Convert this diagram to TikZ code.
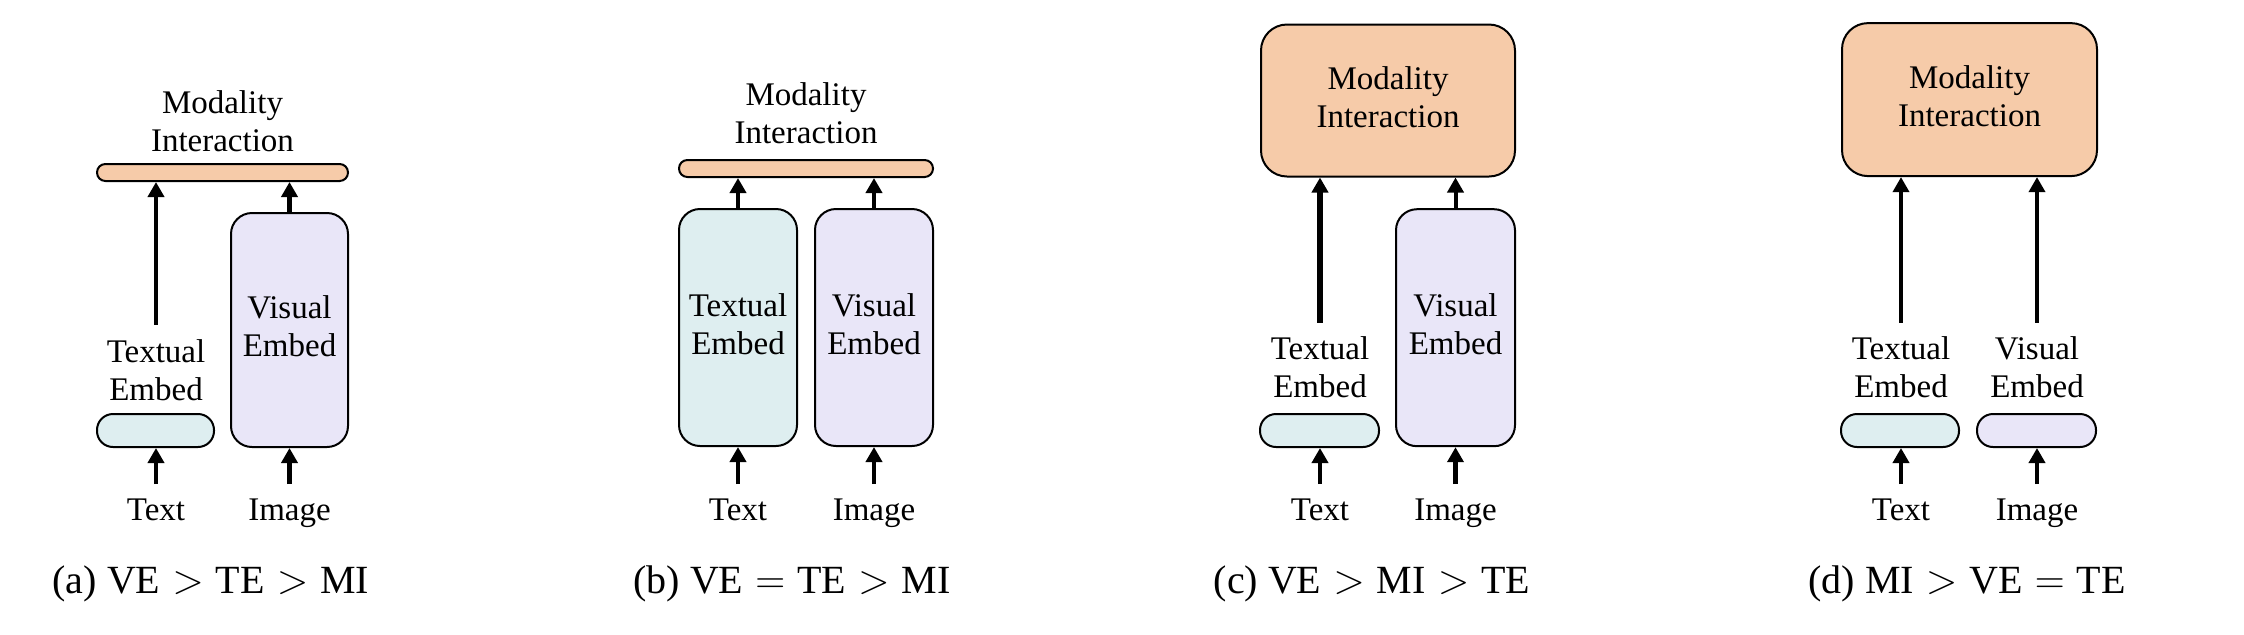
\documentclass[tikz,border=0pt]{standalone}
\usepackage[no-math]{fontspec}
\setmainfont{Liberation Serif}
\usetikzlibrary{arrows.meta}
\newcommand{\twoline}[2]{\begin{tabular}[t]{@{}c@{}}#1\\#2\end{tabular}}
\newcommand{\relsym}[1]{\hspace{0.3em}$#1$\hspace{0.3em}}
\definecolor{mifill}{RGB}{246,203,169}
\definecolor{tefill}{RGB}{222,238,240}
\definecolor{vefill}{RGB}{233,230,248}
\begin{document}
\begin{tikzpicture}[x=0.5pt,y=-0.5pt,
  lbl/.style={font=\fontsize{16.5}{19}\selectfont, inner sep=0pt, anchor=base},
  io/.style={lbl, inner ysep=7pt},
  box/.style={draw=black, line width=1pt, inner sep=0pt, font=\fontsize{16.5}{19}\selectfont},
  mibox/.style={box, fill=mifill},
  tebox/.style={box, fill=tefill},
  vebox/.style={box, fill=vefill},
  captxt/.style={font=\fontsize{20}{24}\selectfont, inner sep=0pt, anchor=base},
  arr/.style={-{Triangle[width=8pt,length=7.5pt]}, line width=2.2pt},
]
\useasboundingbox (0,0) rectangle (2244,634);

% ---------- (a) ----------
\node[lbl] (mlA) at (222.5,113) {\twoline{Modality}{Interaction}};
\node[mibox, minimum width=125.5pt, minimum height=8.5pt, rounded corners=4.2pt] (mA) at (222.5,172.5) {};
\node[tebox, minimum width=58.5pt, minimum height=16.5pt, rounded corners=8pt] (tA) at (155.5,430.5) {};
\node[vebox, minimum width=58.5pt, minimum height=117pt, rounded corners=10.5pt] (vA) at (289.5,330) {\twoline{Visual}{Embed}};
\node[lbl, inner ysep=5.2pt] (tlA) at (156,362) {\twoline{Textual}{Embed}};
\node[io] (txA) at (156,520) {Text};
\node[io] (imA) at (289.5,520) {Image};
\draw[arr] (tlA.north) -- (tlA.north |- mA.south);
\draw[arr] (vA.north) -- (vA.north |- mA.south);
\draw[arr] (txA.north) -- (txA.north |- tA.south);
\draw[arr] (imA.north) -- (imA.north |- vA.south);
\node[captxt] (cA) at (211,593) {(a) VE\relsym{>}TE\relsym{>}MI};

% ---------- (b) ----------
\node[lbl] (mlB) at (806,105) {\twoline{Modality}{Interaction}};
\node[mibox, minimum width=127pt, minimum height=8.5pt, rounded corners=4.2pt] (mB) at (806,168.5) {};
\node[tebox, minimum width=59pt, minimum height=118.5pt, rounded corners=10.5pt] (tB) at (738,327.5) {\twoline{Textual}{Embed}};
\node[vebox, minimum width=59pt, minimum height=118.5pt, rounded corners=10.5pt] (vB) at (874,327.5) {\twoline{Visual}{Embed}};
\node[io] (txB) at (738,520) {Text};
\node[io] (imB) at (874,520) {Image};
\draw[arr] (tB.north) -- (tB.north |- mB.south);
\draw[arr, line width=1.9pt] (vB.north) -- (vB.north |- mB.south);
\draw[arr] (txB.north) -- (txB.north |- tB.south);
\draw[arr] (imB.north) -- (imB.north |- vB.south);
\node[captxt] (cB) at (792,593) {(b) VE\relsym{=}TE\relsym{>}MI};

% ---------- (c) ----------
\node[mibox, minimum width=127pt, minimum height=76pt, rounded corners=13pt] (mC) at (1388,100.5) {\twoline{Modality}{Interaction}};
\node[tebox, minimum width=59.5pt, minimum height=16.5pt, rounded corners=8pt] (tC) at (1319.5,430.5) {};
\node[vebox, minimum width=59.5pt, minimum height=118.5pt, rounded corners=10.5pt] (vC) at (1455.5,327.7) {\twoline{Visual}{Embed}};
\node[lbl, inner ysep=4.7pt] (tlC) at (1320,359) {\twoline{Textual}{Embed}};
\node[io] (txC) at (1320,520) {Text};
\node[io] (imC) at (1455.5,520) {Image};
\draw[arr, line width=2.8pt] (tlC.north) -- (tlC.north |- mC.south);
\draw[arr, line width=2pt] (vC.north) -- (vC.north |- mC.south);
\draw[arr] (txC.north) -- (txC.north |- tC.south);
\draw[arr] (imC.north) -- (imC.north |- vC.south);
\node[captxt] (cC) at (1372,593) {(c) VE\relsym{>}MI\relsym{>}TE};

% ---------- (d) ----------
\node[mibox, minimum width=127.5pt, minimum height=76.5pt, rounded corners=13pt] (mD) at (1969.5,99.6) {\twoline{Modality}{Interaction}};
\node[tebox, minimum width=59pt, minimum height=16.5pt, rounded corners=8pt] (tD) at (1900,430.5) {};
\node[vebox, minimum width=59.5pt, minimum height=16.5pt, rounded corners=8pt] (vD) at (2036.5,430.5) {};
\node[lbl, inner ysep=4.7pt] (tlD) at (1901,359) {\twoline{Textual}{Embed}};
\node[lbl, inner ysep=4.7pt] (vlD) at (2037,359) {\twoline{Visual}{Embed}};
\node[io] (txD) at (1901,520) {Text};
\node[io] (imD) at (2037,520) {Image};
\draw[arr, line width=1.8pt] (tlD.north) -- (tlD.north |- mD.south);
\draw[arr, line width=1.8pt] (vlD.north) -- (vlD.north |- mD.south);
\draw[arr] (txD.north) -- (txD.north |- tD.south);
\draw[arr] (imD.north) -- (imD.north |- vD.south);
\node[captxt] (cD) at (1967,593) {(d) MI\relsym{>}VE\relsym{=}TE};
\end{tikzpicture}
\end{document}
